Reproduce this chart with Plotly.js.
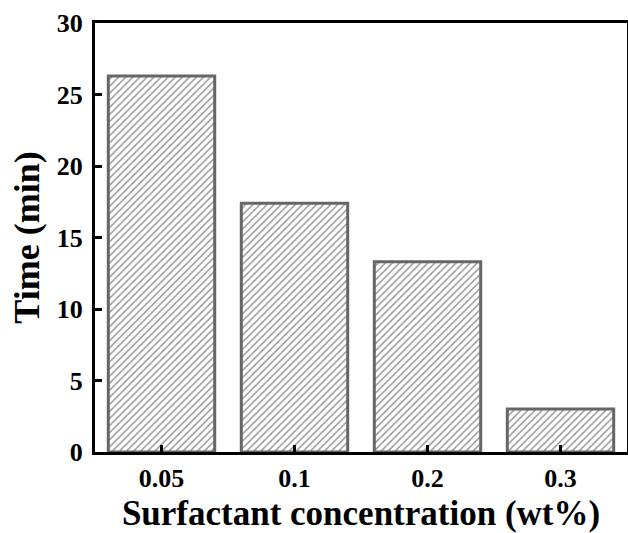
<!DOCTYPE html>
<html><head><meta charset="utf-8">
<script src="https://cdn.plot.ly/plotly-3.0.1.min.js"></script>
<style>html,body{margin:0;padding:0;background:#fff}</style>
</head><body>
<div id="chart" style="width:628px;height:533px"></div>
<script>
const categories = ['0.05', '0.1', '0.2', '0.3'];
const timeMin = [26.3, 17.4, 13.3, 3.0];
const yTicks = [0, 5, 10, 15, 20, 25, 30];

const trace = {
  type: 'bar',
  x: categories,
  y: timeMin,
  width: 0.8,
  marker: {
    color: 'white',
    line: {color: '#666666', width: 3},
    pattern: {shape: '/', fgcolor: '#9a9a9a', bgcolor: 'white', size: 5, solidity: 0.3}
  },
  hoverinfo: 'none'
};

const font = {family: '"Liberation Serif", "Times New Roman", serif', color: '#000'};

const layout = {
  width: 628, height: 533,
  margin: {l: 95, r: 1, t: 23, b: 81},
  paper_bgcolor: 'white', plot_bgcolor: 'white',
  showlegend: false,
  font: font,
  xaxis: {
    type: 'category',
    range: [-0.5, 3.5],
    showline: true, linecolor: '#000', linewidth: 3, mirror: true,
    ticks: 'inside', ticklen: 7, tickwidth: 3, tickcolor: '#000',
    ticklabelstandoff: 1,
    tickfont: {family: font.family, size: 26, weight: 'bold', color: '#000'},
    title: {text: 'Surfactant concentration (wt%)', font: {family: font.family, size: 35, weight: 'bold', color: '#000'}, standoff: 9},
    showgrid: false, zeroline: false
  },
  yaxis: {
    range: [0, 30],
    tickvals: yTicks,
    showline: true, linecolor: '#000', linewidth: 3, mirror: true,
    ticks: 'inside', ticklen: 7, tickwidth: 3, tickcolor: '#000',
    ticklabelstandoff: 4,
    tickfont: {family: font.family, size: 26, weight: 'bold', color: '#000'},
    title: {text: 'Time (min)', font: {family: font.family, size: 36, weight: 'bold', color: '#000'}, standoff: 7},
    showgrid: false, zeroline: false
  }
};

Plotly.newPlot('chart', [trace], layout, {staticPlot: true, displayModeBar: false});
</script>
</body></html>
